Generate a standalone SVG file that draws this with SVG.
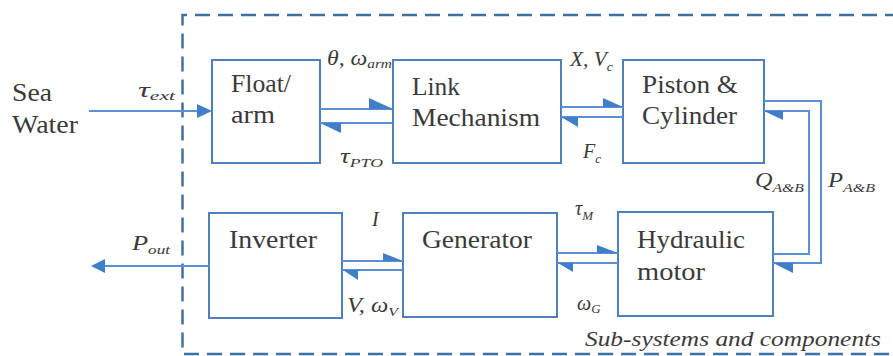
<svg xmlns="http://www.w3.org/2000/svg" width="893" height="356" viewBox="0 0 893 356">
<style>
.box{fill:#fff;stroke:#4f7fbf;stroke-width:2}
.ln{fill:none;stroke:#5b8fd6;stroke-width:2}
.ah{fill:#3f7ec8;stroke:none}
.dash{fill:none;stroke:#41709f;stroke-width:2.5;stroke-dasharray:15 8}
.t{font-family:'Liberation Serif','DejaVu Serif',serif;font-size:25px;fill:#3a3a3a}
.m{font-family:'Liberation Serif','DejaVu Serif',serif;font-style:italic;font-size:20px;fill:#3a3a3a}
.s{font-size:13px}
.cap{font-family:'Liberation Serif','DejaVu Serif',serif;font-style:italic;font-size:21px;fill:#3a3a3a}
</style>
<rect width="893" height="356" fill="#fff"/>
<path class="dash" d="M900 15 H182.5 V354 H900"/>
<text class="cap" x="585" y="346" textLength="296" lengthAdjust="spacingAndGlyphs">Sub-systems and components</text>

<g id="sea-water">
<text class="t" x="12" y="101" textLength="40" lengthAdjust="spacingAndGlyphs">Sea</text>
<text class="t" x="12" y="133" textLength="66" lengthAdjust="spacingAndGlyphs">Water</text>
</g>
<g id="float-arm">
<rect class="box" x="212" y="60" width="108" height="103"/>
<text class="t" x="231" y="92" textLength="60" lengthAdjust="spacingAndGlyphs">Float/</text>
<text class="t" x="231" y="123" textLength="44" lengthAdjust="spacingAndGlyphs">arm</text>
</g>
<g id="link-mechanism">
<rect class="box" x="393" y="60" width="168" height="103"/>
<text class="t" x="412" y="95" textLength="48" lengthAdjust="spacingAndGlyphs">Link</text>
<text class="t" x="412" y="126" textLength="128" lengthAdjust="spacingAndGlyphs">Mechanism</text>
</g>
<g id="piston-cylinder">
<rect class="box" x="623" y="60" width="141" height="103"/>
<text class="t" x="642" y="93" textLength="96" lengthAdjust="spacingAndGlyphs">Piston &amp;</text>
<text class="t" x="642" y="124" textLength="95" lengthAdjust="spacingAndGlyphs">Cylinder</text>
</g>
<g id="inverter">
<rect class="box" x="209" y="213" width="133" height="105"/>
<text class="t" x="229" y="248" textLength="88" lengthAdjust="spacingAndGlyphs">Inverter</text>
</g>
<g id="generator">
<rect class="box" x="403" y="213" width="154" height="104"/>
<text class="t" x="422" y="248" textLength="110" lengthAdjust="spacingAndGlyphs">Generator</text>
</g>
<g id="hydraulic-motor">
<rect class="box" x="618" y="212" width="155" height="104"/>
<text class="t" x="637" y="248" textLength="108" lengthAdjust="spacingAndGlyphs">Hydraulic</text>
<text class="t" x="637" y="280" textLength="68" lengthAdjust="spacingAndGlyphs">motor</text>
</g>

<g id="connectors">
<path class="ln" d="M89 111 H200"/>
<polygon class="ah" points="197,104 212,111 197,118"/>
<path class="ln" d="M209 266 H102"/>
<polygon class="ah" points="91,266 105,259 105,273"/>

<path class="ln" d="M320 109 H393 M320 123 H393"/>
<polygon class="ah" points="369,98 393,109 369,109"/>
<polygon class="ah" points="320,123 341,123 341,133"/>

<path class="ln" d="M561 107 H623 M561 117 H623"/>
<polygon class="ah" points="603,98 623,107 603,107"/>
<polygon class="ah" points="561,117 578,117 578,127"/>

<path class="ln" d="M764 101 H821 V263 H773"/>
<polygon class="ah" points="773,263 793,263 793,273"/>
<path class="ln" d="M773 254 H809 V111 H764"/>
<polygon class="ah" points="764,111 783,111 783,120"/>

<path class="ln" d="M342 261 H403 M342 270 H403"/>
<polygon class="ah" points="383,253 403,261 383,261"/>
<polygon class="ah" points="343,270 358,270 358,280"/>

<path class="ln" d="M557 253 H618 M557 263 H618"/>
<polygon class="ah" points="597,245 618,253 597,253"/>
<polygon class="ah" points="558,263 573,263 573,272"/>
</g>

<g id="labels">
<text class="m" x="138" y="97" textLength="37" lengthAdjust="spacingAndGlyphs">τ<tspan class="s" dy="3">ext</tspan></text>
<text class="m" x="327" y="65" textLength="65" lengthAdjust="spacingAndGlyphs">θ, ω<tspan class="s" dy="3">arm</tspan></text>
<text class="m" x="340" y="163" textLength="43" lengthAdjust="spacingAndGlyphs">τ<tspan class="s" dy="4">PTO</tspan></text>
<text class="m" x="570" y="66" textLength="43" lengthAdjust="spacingAndGlyphs">X, V<tspan class="s" dy="5">c</tspan></text>
<text class="m" x="583" y="158">F<tspan class="s" dy="5">c</tspan></text>
<text class="m" x="755" y="187" textLength="49" lengthAdjust="spacingAndGlyphs">Q<tspan class="s" dy="5">A&amp;B</tspan></text>
<text class="m" x="828" y="187" textLength="47" lengthAdjust="spacingAndGlyphs">P<tspan class="s" dy="5">A&amp;B</tspan></text>
<text class="m" x="372" y="226">I</text>
<text class="m" x="347" y="312" textLength="51" lengthAdjust="spacingAndGlyphs">V, ω<tspan class="s" dy="4">V</tspan></text>
<text class="m" x="132" y="250" textLength="38" lengthAdjust="spacingAndGlyphs">P<tspan class="s" dy="4">out</tspan></text>
<text class="m" x="575" y="215">τ<tspan class="s" dy="5">M</tspan></text>
<text class="m" x="577" y="310">ω<tspan class="s" dy="3">G</tspan></text>
</g>
</svg>
